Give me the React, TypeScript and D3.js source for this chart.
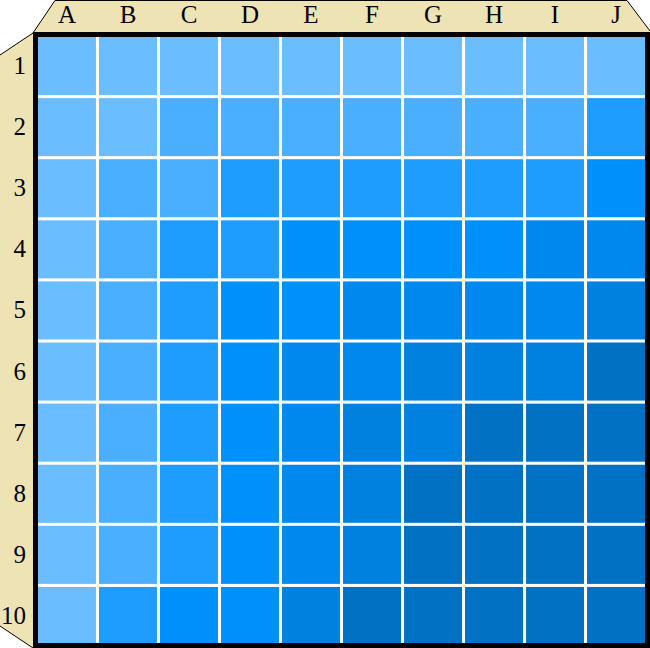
import React from "react";
import * as d3 from "d3";

const columns = ["A", "B", "C", "D", "E", "F", "G", "H", "I", "J"];
const rows = ["1", "2", "3", "4", "5", "6", "7", "8", "9", "10"];

// level per cell (row-major)
const row1 = [0, 0, 0, 0, 0, 0, 0, 0, 0, 0];
const row2 = [0, 0, 1, 1, 1, 1, 1, 1, 1, 2];
const row3 = [0, 1, 1, 2, 2, 2, 2, 2, 2, 3];
const row4 = [0, 1, 2, 2, 3, 3, 3, 3, 4, 4];
const row5 = [0, 1, 2, 3, 3, 4, 4, 4, 4, 5];
const row6 = [0, 1, 2, 3, 4, 4, 5, 5, 5, 6];
const row7 = [0, 1, 2, 3, 4, 5, 5, 6, 6, 6];
const row8 = [0, 1, 2, 3, 4, 5, 6, 6, 6, 6];
const row9 = [0, 1, 2, 3, 4, 5, 6, 6, 6, 6];
const row10 = [0, 2, 3, 3, 5, 6, 6, 6, 6, 6];
const values = [row1, row2, row3, row4, row5, row6, row7, row8, row9, row10];

const palette = ["#6abeff", "#4aafff", "#1e9dff", "#0090fb", "#0088ee", "#0081e0", "#0071c3"];

export default function App() {
  const W = 650;
  const H = 648;
  const x0 = 38, x1 = 645, y0 = 37, y1 = 645;
  const x = d3.scaleBand<string>().domain(columns).range([x0, x1]).paddingInner(0.05).paddingOuter(0);
  const y = d3.scaleBand<string>().domain(rows).range([y0, y1]).paddingInner(0.05).paddingOuter(0);
  const color = d3.scaleOrdinal<number, string>().domain(d3.range(palette.length)).range(palette);
  const beige = "#eee3b4";
  const font = "'Liberation Serif', 'Times New Roman', serif";

  const topBand = [[55, 0], [627, 0], [650, 31], [650, 32], [33, 32], [33, 33]];
  const leftBand = [[33, 33], [0, 55], [0, 626], [33, 648]];
  const line = d3.line();

  return (
    <svg width={W} height={H} style={{ position: "absolute", left: 0, top: 0, background: "#fff" }}>
      <path d={line(topBand as [number, number][]) + "Z"} fill={beige} />
      <path d={line(leftBand as [number, number][]) + "Z"} fill={beige} />
      <path d={line([[33, 33], [55, 0.5], [627, 0.5], [650, 31]])!} fill="none" stroke="#000" strokeWidth={1} />
      <path d={line([[33, 33], [0, 55]])!} fill="none" stroke="#000" strokeWidth={1} />
      <path d={line([[0, 626], [33, 648]])!} fill="none" stroke="#000" strokeWidth={1} />
      <rect x={x0} y={y0} width={x1 - x0} height={y1 - y0} fill="#fff" />
      {values.map((r, ri) =>
        r.map((v, ci) => (
          <rect
            key={`${ri}-${ci}`}
            x={x(columns[ci])}
            y={y(rows[ri])}
            width={x.bandwidth()}
            height={y.bandwidth()}
            fill={color(v)}
          />
        ))
      )}
      <rect x={35.5} y={34.5} width={612} height={611} fill="none" stroke="#000" strokeWidth={5} />
      {columns.map((c) => (
        <text key={c} x={x(c)! + x.bandwidth() / 2} y={23} textAnchor="middle" fontFamily={font} fontSize={25} fill="#000">
          {c}
        </text>
      ))}
      {rows.map((r) => (
        <text key={r} x={26} y={y(r)! + y.bandwidth() / 2 + 8} textAnchor="end" fontFamily={font} fontSize={25} fill="#000">
          {r}
        </text>
      ))}
    </svg>
  );
}
